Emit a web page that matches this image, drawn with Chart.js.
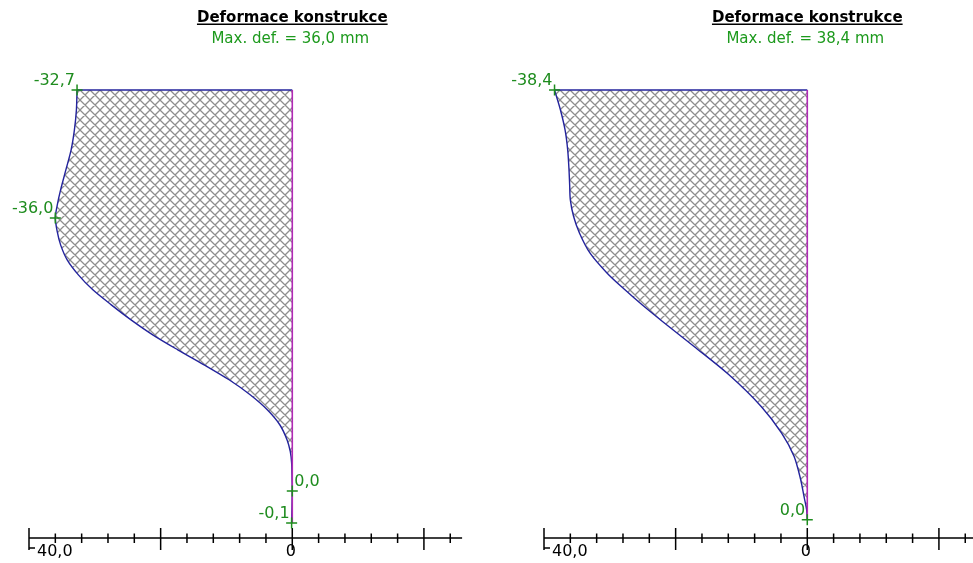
<!DOCTYPE html>
<html>
<head>
<meta charset="utf-8">
<script src="https://cdn.jsdelivr.net/npm/chart.js@4.4.1/dist/chart.umd.min.js"></script>
<style>
  html, body { margin: 0; padding: 0; background: #fff; overflow: hidden; width: 973px; height: 563px; }
  canvas { position: absolute; top: 0; }
  #left { left: 0; }
  #right { left: 500px; }
</style>
</head>
<body>
<canvas id="left" width="486" height="563"></canvas>
<canvas id="right" width="490" height="563"></canvas>
<script>
// Wall deformation along depth [m] -> horizontal deflection [mm]
const leftDepth = [0, 0.6, 1.2, 1.8, 2.4, 3.0, 3.45, 3.84, 4.26, 4.65, 5.1, 5.55, 6.0, 6.45, 6.9, 7.35, 7.8, 8.25, 8.7, 9.15, 9.6, 10.05, 10.5, 10.86, 11.2, 11.7, 12.04, 13.0];
const leftDef   = [-32.7, -32.8, -33.1, -33.6, -34.4, -35.2, -35.7, -36.0, -35.7, -35.2, -34.2, -32.5, -30.3, -27.5, -24.5, -21.2, -17.4, -13.4, -9.6, -6.4, -3.8, -1.9, -0.8, -0.3, -0.1, -0.03, 0.0, -0.1];
const leftMarks = [0, 7, 26, 27];
const leftMarkSide = ['ul', 'ul', 'ur', 'ul'];

const rightDepth = [0, 0.6, 1.2, 1.8, 2.4, 2.85, 3.3, 3.8, 4.3, 4.9, 5.5, 6.0, 6.45, 6.95, 7.7, 8.55, 9.5, 10.3, 11.0, 11.7, 12.2, 12.6, 12.9];
const rightDef   = [-38.4, -37.5, -36.8, -36.4, -36.2, -36.1, -36.0, -35.5, -34.6, -33.0, -30.4, -27.7, -25.1, -22.0, -17.2, -11.9, -7.0, -3.9, -2.0, -1.0, -0.5, -0.1, 0.0];
const rightMarks = [0, 22];
const rightMarkSide = ['ul', 'ul'];

// Deflection axis
const axisTicks = [-40, -36, -32, -28, -24, -20, -16, -12, -8, -4, 0, 4, 8, 12, 16, 20, 24];
const majorTicks = [-40, -20, 0, 20];
const axisEnd = 25.8;
const tickLabelValues = [-40, 0];
const tickLabels = ['40,0', '0'];

const TITLE = 'Deformace konstrukce';
const FONT = '"DejaVu Sans", Verdana, sans-serif';
const BLUE = '#23239c';
const MAGENTA = '#b02ab4';
const GREEN = '#1e8c1e';
const SUB_GREEN = '#1d9a1d';

function fmt(v) {
  let s = v.toFixed(1);
  if (s === '-0.0') s = '0.0';
  return s.replace('.', ',');
}

function hatchPattern(ctx) {
  const tile = document.createElement('canvas');
  tile.width = 10; tile.height = 10;
  const g = tile.getContext('2d');
  g.strokeStyle = '#8e8e8e';
  g.lineWidth = 1.3;
  g.beginPath();
  for (const o of [-10, 0, 10]) {
    g.moveTo(o - 1, -1); g.lineTo(o + 11, 11);
    g.moveTo(o - 1, 11); g.lineTo(o + 11, -1);
  }
  g.stroke();
  return ctx.createPattern(tile, 'repeat');
}

const deformPlugin = {
  id: 'deform',
  afterDatasetsDraw(chart, args, o) {
    const { ctx, chartArea } = chart;
    const xs = chart.scales.x, ys = chart.scales.y;
    const x0 = xs.getPixelForValue(0);
    ctx.save();

    // heading
    ctx.textBaseline = 'alphabetic';
    ctx.textAlign = 'center';
    ctx.font = 'bold 15px ' + FONT;
    ctx.fillStyle = '#000';
    ctx.fillText(TITLE, x0, 22);
    const tw = ctx.measureText(TITLE).width;
    ctx.fillRect(x0 - tw / 2, 23.5, tw, 1.5);
    ctx.font = '15px ' + FONT;
    ctx.fillStyle = SUB_GREEN;
    const maxDef = Math.max(...o.def.map(Math.abs));
    ctx.fillText('Max. def. = ' + fmt(maxDef) + ' mm', x0 - 2, 43);

    // deflection axis
    const ay = chartArea.bottom;
    ctx.strokeStyle = '#000';
    ctx.lineWidth = 1.5;
    ctx.beginPath();
    ctx.moveTo(xs.getPixelForValue(axisTicks[0]), ay);
    ctx.lineTo(xs.getPixelForValue(axisEnd), ay);
    for (const t of axisTicks) {
      const px = xs.getPixelForValue(t);
      if (majorTicks.includes(t)) {
        ctx.moveTo(px, ay - 10); ctx.lineTo(px, ay + 12);
      } else {
        ctx.moveTo(px, ay - 4.5); ctx.lineTo(px, ay + 5);
      }
    }
    const xStart = xs.getPixelForValue(axisTicks[0]);
    ctx.moveTo(xStart, ay + 10); ctx.lineTo(xStart + 6, ay + 10);
    ctx.stroke();

    ctx.font = '16px ' + FONT;
    ctx.fillStyle = '#000';
    tickLabelValues.forEach((v, i) => {
      const px = xs.getPixelForValue(v);
      if (i === 0) {
        ctx.textAlign = 'left';
        ctx.fillText(tickLabels[i], px + 8, ay + 18);
      } else {
        ctx.textAlign = 'center';
        ctx.fillText(tickLabels[i], px - 1.5, ay + 18);
      }
    });

    // value markers
    ctx.strokeStyle = GREEN;
    ctx.fillStyle = GREEN;
    ctx.lineWidth = 1.5;
    o.marks.forEach((idx, k) => {
      const px = xs.getPixelForValue(o.def[idx]);
      const py = ys.getPixelForValue(o.depth[idx]);
      ctx.beginPath();
      ctx.moveTo(px - 5.5, py); ctx.lineTo(px + 5.5, py);
      ctx.moveTo(px, py - 5.5); ctx.lineTo(px, py + 5.5);
      ctx.stroke();
      const side = o.side[k];
      ctx.textAlign = side === 'ur' ? 'left' : 'right';
      ctx.fillText(fmt(o.def[idx]), side === 'ur' ? px + 2 : px - 2, py - 5);
    });

    ctx.restore();
  }
};

function makeChart(id, depth, def, marks, side, padLeft, padRight) {
  const canvas = document.getElementById(id);
  const ctx = canvas.getContext('2d');
  const curve = depth.map((d, i) => ({ x: def[i], y: d }));
  const last = depth[depth.length - 1];
  const shape = curve.concat([{ x: 0, y: last }, { x: 0, y: 0 }]);
  const common = { showLine: true, pointRadius: 0, pointHoverRadius: 0, clip: false };

  return new Chart(ctx, {
    type: 'scatter',
    data: {
      datasets: [
        Object.assign({ data: [{ x: 0, y: 0 }, { x: 0, y: last }], borderColor: MAGENTA, borderWidth: 1.6, tension: 0, fill: false }, common),
        Object.assign({ data: curve, borderColor: BLUE, borderWidth: 1.4, tension: 0.3, fill: false }, common),
        Object.assign({ data: [{ x: 0, y: 0 }, { x: def[0], y: 0 }], borderColor: BLUE, borderWidth: 1.5, tension: 0, fill: false }, common),
        Object.assign({ data: shape, borderWidth: 0, borderColor: 'rgba(0,0,0,0)', backgroundColor: hatchPattern(ctx), tension: 0, fill: 'shape' }, common)
      ]
    },
    options: {
      responsive: false,
      animation: false,
      events: [],
      layout: { padding: { left: padLeft, right: padRight, top: 60, bottom: 25 } },
      scales: {
        x: { type: 'linear', min: -40, max: 27, display: false },
        y: { type: 'linear', reverse: true, min: -0.9, max: 13.45, display: false }
      },
      plugins: {
        legend: { display: false },
        tooltip: { enabled: false },
        title: { display: false },
        deform: { depth, def, marks, side }
      }
    },
    plugins: [deformPlugin]
  });
}

makeChart('left', leftDepth, leftDef, leftMarks, leftMarkSide, 29, 16);
makeChart('right', rightDepth, rightDef, rightMarks, rightMarkSide, 44, 5);
</script>
</body>
</html>
